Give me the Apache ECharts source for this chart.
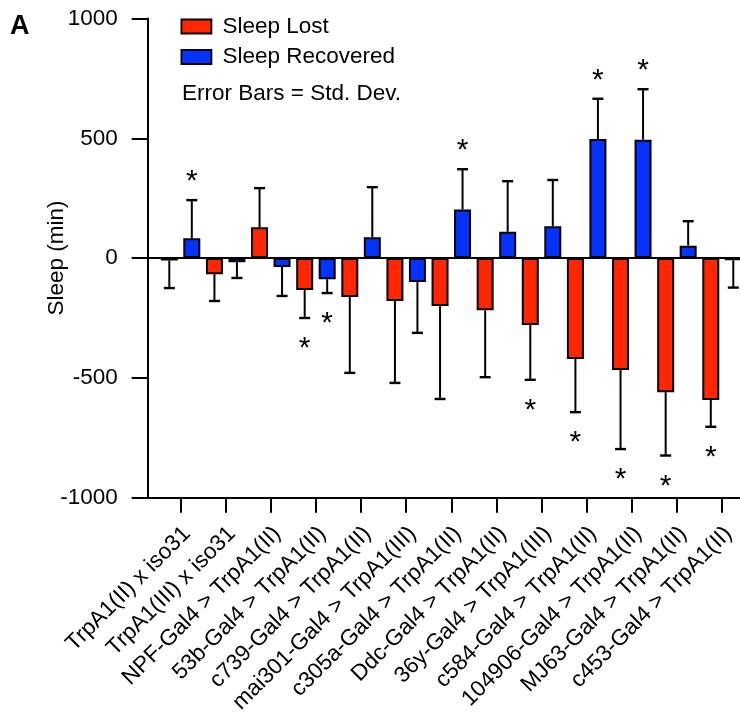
<!DOCTYPE html>
<html>
<head>
<meta charset="utf-8">
<script src="https://cdn.jsdelivr.net/npm/echarts@6/dist/echarts.min.js"></script>
<style>
  html, body { margin: 0; padding: 0; background: #fff; }
  #chart { width: 740px; height: 713px; }
</style>
</head>
<body>
<div id="chart"></div>
<script>
// ---- Data ----
const categories = [
  'TrpA1(II) x iso31',
  'TrpA1(III) x iso31',
  'NPF-Gal4 > TrpA1(II)',
  '53b-Gal4 > TrpA1(II)',
  'c739-Gal4 > TrpA1(II)',
  'mai301-Gal4 > TrpA1(III)',
  'c305a-Gal4 > TrpA1(II)',
  'Ddc-Gal4 > TrpA1(II)',
  '36y-Gal4 > TrpA1(III)',
  'c584-Gal4 > TrpA1(II)',
  '104906-Gal4 > TrpA1(II)',
  'MJ63-Gal4 > TrpA1(II)',
  'c453-Gal4 > TrpA1(II)'
];
const sleepLost        = [-10, -67, 129, -133, -162, -179, -200, -218, -279, -421, -467, -560, -592];
const sleepLostSD      = [115, 112, 163, 117, 317, 342, 388, 279, 229, 222, 330, 264, 112];
const sleepRecovered   = [83, -17, -37, -88, 87, -100, 203, 110, 133, 497, 494, 52, -9];
const sleepRecoveredSD = [159, 66, 121, 58, 209, 212, 168, 211, 193, 168, 211, 102, 114];
const lostSignificant      = [0, 0, 0, 1, 0, 0, 0, 0, 1, 1, 1, 1, 1];
const recoveredSignificant = [1, 0, 0, 1, 0, 0, 1, 0, 0, 1, 1, 0, 0];
const yMin = -1000, yMax = 1000, yStep = 500;
const seriesNames = ['Sleep Lost', 'Sleep Recovered'];
const noteText = 'Error Bars = Std. Dev.';
const panelLabel = 'A';

// ---- Style constants ----
const FONT = "'Liberation Sans', Arial, Helvetica, sans-serif";
const FS = 22.5;
const RED = '#FF2600';
const BLUE = '#0433FF';
const BAR_W = 17;
const BAR_GAP_PX = 5.5;
const BAR_OFFSET = (BAR_W + BAR_GAP_PX) / 2;
const GRID_TOP = 18.5, GRID_BOTTOM = 215.3;
const STAR_FS = 30;

// error-bar data: [categoryIndex, value, sd, significant, side(-1 red / +1 blue)]
const errLost = sleepLost.map((v, i) => [i, v, sleepLostSD[i], lostSignificant[i], -1]);
const errRec = sleepRecovered.map((v, i) => [i, v, sleepRecoveredSD[i], recoveredSignificant[i], 1]);

function renderErr(params, api) {
  const ci = api.value(0), v = api.value(1), sd = api.value(2), sig = api.value(3), side = api.value(4);
  const dir = v >= 0 ? 1 : -1;
  const base = api.coord([ci, v]);
  const end = api.coord([ci, v + dir * sd]);
  const x = base[0] + side * BAR_OFFSET;
  const children = [
    { type: 'line', shape: { x1: x, y1: base[1], x2: x, y2: end[1] },
      style: { stroke: '#000', lineWidth: 2 } },
    { type: 'line', shape: { x1: x - 5.5, y1: end[1], x2: x + 5.5, y2: end[1] },
      style: { stroke: '#000', lineWidth: 2.4 } }
  ];
  if (sig) {
    const sy = dir > 0 ? end[1] - 18 : end[1] + 31;
    children.push({ type: 'text', style: { text: '*', x: x, y: sy, align: 'center',
      verticalAlign: 'middle', font: STAR_FS + 'px ' + FONT, fill: '#000' } });
  }
  return { type: 'group', children };
}

const chart = echarts.init(document.getElementById('chart'), null, { renderer: 'canvas' });
const axisBlack = { color: '#000', width: 2 };

chart.setOption({
  animation: false,
  backgroundColor: '#fff',
  textStyle: { fontFamily: FONT },
  title: [
    { text: panelLabel, left: 10, top: 13, padding: 0,
      textStyle: { fontFamily: FONT, fontSize: 27, fontWeight: 'bold', color: '#000' } },
    { text: noteText, left: 182, top: 82, padding: 0,
      textStyle: { fontFamily: FONT, fontSize: FS, fontWeight: 'normal', color: '#000' } }
  ],
  legend: {
    orient: 'vertical', left: 180.5, top: 15, padding: 0,
    itemWidth: 30, itemHeight: 14, itemGap: 7.5, icon: 'rect',
    itemStyle: { borderColor: '#000', borderWidth: 1.8 },
    textStyle: { fontFamily: FONT, fontSize: FS, color: '#000', padding: [0, 0, 0, 6] },
    data: seriesNames
  },
  grid: [
    { left: 147.7, right: -6, top: GRID_TOP, bottom: GRID_BOTTOM, outerBoundsMode: 'none', containLabel: false },
    { left: 158, right: -4.6, top: GRID_TOP, bottom: GRID_BOTTOM, outerBoundsMode: 'none', containLabel: false }
  ],
  xAxis: [
    { gridIndex: 0, type: 'value', min: 0, max: 1, position: 'bottom',
      axisLine: { show: true, onZero: false, lineStyle: axisBlack },
      axisTick: { show: false }, axisLabel: { show: false }, splitLine: { show: false } },
    { gridIndex: 0, type: 'value', min: 0, max: 1, position: 'bottom',
      axisLine: { show: true, onZero: true, lineStyle: axisBlack },
      axisTick: { show: false }, axisLabel: { show: false }, splitLine: { show: false } },
    { gridIndex: 1, type: 'category', data: categories, position: 'bottom',
      axisLine: { show: false, onZero: false },
      axisTick: { show: true, alignWithLabel: true, length: 15, lineStyle: axisBlack },
      axisLabel: { interval: 0, rotate: 45, margin: 39, padding: [0, -9, 0, 0],
        fontFamily: FONT, fontSize: FS, color: '#000' },
      splitLine: { show: false } }
  ],
  yAxis: [
    { gridIndex: 0, type: 'value', min: yMin, max: yMax, interval: yStep,
      name: 'Sleep (min)', nameLocation: 'middle', nameRotate: 90, nameGap: 79,
      nameMoveOverlap: false,
      nameTextStyle: { fontFamily: FONT, fontSize: FS, color: '#000' },
      axisLine: { show: true, onZero: false, lineStyle: axisBlack },
      axisTick: { show: true, inside: false, length: 16, lineStyle: axisBlack },
      axisLabel: { margin: 30, fontFamily: FONT, fontSize: FS, color: '#000',
        formatter: v => String(v) },
      splitLine: { show: false } },
    { gridIndex: 1, type: 'value', min: yMin, max: yMax, interval: yStep, show: false,
      splitLine: { show: false } }
  ],
  series: [
    { name: seriesNames[0], type: 'bar', xAxisIndex: 2, yAxisIndex: 1, data: sleepLost,
      barWidth: BAR_W, barGap: (BAR_GAP_PX / BAR_W * 100) + '%',
      itemStyle: { color: RED, borderColor: '#000', borderWidth: 2 }, z: 3 },
    { name: seriesNames[1], type: 'bar', xAxisIndex: 2, yAxisIndex: 1, data: sleepRecovered,
      barWidth: BAR_W, barGap: (BAR_GAP_PX / BAR_W * 100) + '%',
      itemStyle: { color: BLUE, borderColor: '#000', borderWidth: 2 }, z: 3 },
    { type: 'custom', xAxisIndex: 2, yAxisIndex: 1, data: errLost, renderItem: renderErr,
      z: 4, silent: true, clip: false },
    { type: 'custom', xAxisIndex: 2, yAxisIndex: 1, data: errRec, renderItem: renderErr,
      z: 4, silent: true, clip: false }
  ]
});
</script>
</body>
</html>
